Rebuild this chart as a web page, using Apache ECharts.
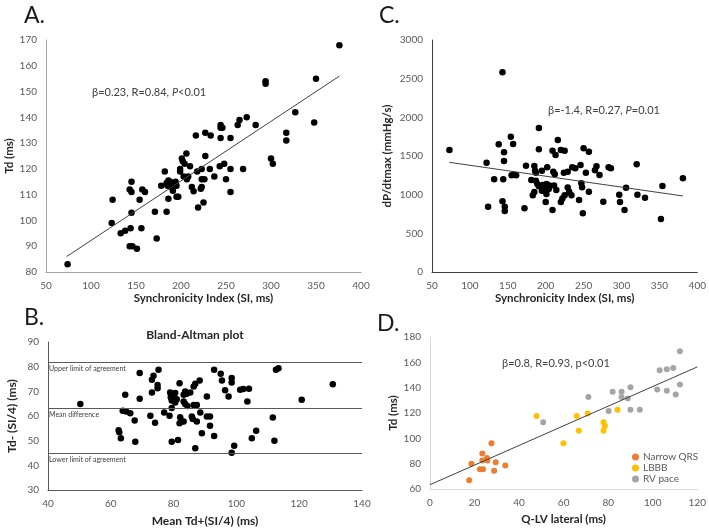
<!DOCTYPE html>
<html>
<head>
<meta charset="utf-8">
<script src="https://cdn.jsdelivr.net/npm/echarts@6/dist/echarts.min.js"></script>
<style>html,body{margin:0;padding:0;background:#fff}#c{width:709px;height:530px}</style>
</head>
<body>
<div id="c"></div>
<script>
// ---------- Panel A: Synchronicity Index vs Td ----------
const siA = [74,123,124,133,138,144,143,146,151,145,145,143,145,157,160,154,156,173,294,294,350,376,327,348,317,317,300,302,
  273,265,263,283,244,246,244,216.5,227,233,244,255,206,201,202,204,210,227,243,248,269,255,232,223,218,199,199,182,203,208,206.5,237,250,223,226,
  186,188,190,194,192,189,185,184,178,195,212,214,222,223,191,255,195,197,186,225,219,171,184];
const tdA = [83,99,108,95,96,97,90,90,89,103,115,112,111,112,111,108,97,93,154,153,155,168,142,138,134,131,124,122,
  140,139,137,137,137,136,136,133,134,133,132,132,126,124,123,122,121,125,121,122,120,120,120,120,119,120,119,119,117,117,116,117,116,116,116,
  115.5,115,114.5,115,113.5,113,113.5,114.5,113.5,113.5,113,111.3,112.3,113,111.5,111,109.2,109.2,108.4,107,105,103.4,103.4];
const trendA_x = [73, 376];
const trendA_y = [86, 156];

// ---------- Panel C: Synchronicity Index vs dP/dtmax ----------
const siC = [73,143,122,124,132,138,145,145,144,143,146,146,191,286,297,298,304,306,320,321,331,354,352,381,
  154,157,216,191,209,213,220,225,250,257,174,185,186,187,195,202,210,212,224,229,235,239,246,253,267,265,271,283,
  155,158,161,181,187,189,191,196,198,201,204,200,195,201,205,211,185,183,214,229,231,234,225,220,222,247,248,257,200,244,276,209,172,249];
const dpC = [1578,2582,1414,845,1198,1651,1548,1435,1198,914,845,789,1862,1340,1000,905,802,1091,1392,1000,961,1112,685,1211,
  1750,1655,1707,1586,1569,1513,1578,1569,1600,1556,1375,1371,1310,1284,1310,1353,1297,1263,1284,1297,1353,1340,1384,1284,1366,1315,1255,1353,
  1250,1258,1250,1190,1181,1138,1108,1125,1095,1138,1073,1052,1052,1009,1117,1117,1035,993,1060,1094,1039,993,993,906,950,1147,1095,1039,906,932,909,802,823,759];
const trendC_x = [73, 381];
const trendC_y = [1418, 983];

// ---------- Panel B: Bland-Altman ----------
const meanB = [50.3,62.5,62.7,63.2,63.8,64.6,64.9,66.2,67.6,67.8,69.2,69.2,
  73.6,73.1,75.2,74.9,74.9,73.1,72.6,74.1,77,78.7,81.9,78.9,80.5,79.1,80.2,79.4,80.2,81,80.5,79.4,
  83.2,83.7,84.2,85.3,86.4,86.9,88.3,83.2,83.7,84.4,86.4,87.4,82.1,82.6,83.2,81.9,85.8,86.1,87.4,88.5,90.6,91.6,91.6,89,92.9,
  79.4,81.4,86.9,92.9,95,95.4,96.4,97.5,98.5,98.5,98.5,99.3,101.2,102.2,103.5,104,90.6,
  104.9,106.3,111.6,112.1,112.6,113.4,120.8,130.7];
const diffB = [64.9,54.2,53.4,51,62.1,68.6,61.8,61.1,58.2,49.6,77.4,67,
  76.3,74.7,78.8,72.6,71.3,69.5,60.1,57.3,61.4,60.1,73.3,69.5,69.3,67.6,67.2,66.3,66.3,66.8,65.5,63.2,
  68.6,69.9,69,69.5,72,73.1,74.4,65.9,64.9,64.1,64.5,64.5,59.5,57.8,57.8,57.1,59.8,58.8,57.8,61.4,59.8,59.8,56,53,51.9,
  49.6,50.3,46.9,78.8,77.1,74.4,70.4,67.9,75.4,73.6,45.1,47.9,70.6,70.9,65.9,71,67.9,
  51,54,59.4,50,78.8,79.4,66.6,72.9];
const limitNames = ['Upper limit of agreement','Mean difference','Lower limit of agreement'];
const limitValues = [81.9, 63.3, 45.0];

// ---------- Panel D: Q-LV lateral vs Td ----------
const groupNames = ['Narrow QRS','LBBB','RV pace'];
const qlvNarrow = [17.6,18.6,23.5,23.5,22.4,23.8,25.6,25.8,27.6,28.8,29.5,33.8];
const tdNarrow  = [67,80,88,82.5,75.5,75.5,84.4,82.5,96.2,74.4,81.2,78.6];
const qlvLBBB = [47.8,59.9,65.9,66.8,70.8,77.9,78.5,77.9,84.2];
const tdLBBB  = [117.6,96.2,117.6,105.9,119.7,112.7,109.8,105.9,122.6];
const qlvRV = [50.8,71.1,80.2,82,86,86,88.8,90,90,94.2,102,103.1,106.3,106.3,109.2,110.3,112.2,112.2];
const tdRV  = [112.7,132.6,121.6,136.8,136.8,132.6,131.5,140.4,122.6,122.6,138.6,153.8,154.6,137.6,155.6,134.7,168.7,142.5];
const trendD_x = [0, 120];
const trendD_y = [63.4, 156.4];

const FONT = 'Lato';
const zip = (a, b) => a.map((v, i) => [v, b[i]]);

function axis(min, max, interval, lineColor, name, nameGap, extra) {
  return Object.assign({
    type: 'value', min, max, interval,
    name, nameLocation: 'middle', nameGap,
    nameTextStyle: {fontFamily: FONT, fontWeight: 'bold', fontSize: 11.5, color: '#262626'},
    axisLine: {show: true, lineStyle: {color: lineColor, width: 1}},
    axisTick: {show: false},
    splitLine: {show: false},
    axisLabel: {fontFamily: FONT, fontSize: 10, color: '#595959', margin: 9, formatter: v => String(v)}
  }, extra || {});
}

const dot = {color: '#000', opacity: 1};

const option = {
  animation: false,
  backgroundColor: '#fff',
  grid: [
    {left: 46, top: 40, width: 315, height: 232},
    {left: 432, top: 40, width: 266, height: 232},
    {left: 48, top: 342, width: 314, height: 148},
    {left: 430, top: 337, width: 268, height: 152}
  ],
  xAxis: [
    axis(50, 400, 50, '#a6a6a6', 'Synchronicity Index (SI, ms)', 20, {gridIndex: 0}),
    axis(50, 400, 50, '#404040', 'Synchronicity Index (SI, ms)', 20, {gridIndex: 1}),
    axis(40, 140, 20, '#595959', 'Mean Td+(SI/4) (ms)', 25, {gridIndex: 2, nameTextStyle: {fontFamily: FONT, fontWeight: 'bold', fontSize: 12, color: '#262626'}}),
    axis(0, 120, 20, '#d9d9d9', 'Q-LV lateral (ms)', 24, {gridIndex: 3})
  ],
  yAxis: [
    axis(80, 170, 10, '#a6a6a6', 'Td (ms)', 29, {gridIndex: 0}),
    axis(0, 3000, 500, '#404040', 'dP/dtmax (mmHg/s)', 39, {gridIndex: 1}),
    axis(30, 90, 10, '#595959', 'Td- (SI/4) (ms)', 30, {gridIndex: 2, nameTextStyle: {fontFamily: FONT, fontWeight: 'bold', fontSize: 12, color: '#262626'}}),
    axis(60, 180, 20, '#d9d9d9', 'Td (ms)', 28, {gridIndex: 3})
  ],
  legend: {
    data: groupNames,
    orient: 'vertical',
    left: 627, top: 447,
    itemWidth: 7, itemHeight: 7, itemGap: 1,
    icon: 'circle',
    textStyle: {fontFamily: FONT, fontSize: 10, color: '#595959', padding: [0, 0, 0, -1]}
  },
  series: [
    {type: 'scatter', xAxisIndex: 0, yAxisIndex: 0, data: zip(siA, tdA), symbolSize: 6.5, itemStyle: dot},
    {type: 'line', xAxisIndex: 0, yAxisIndex: 0, data: zip(trendA_x, trendA_y), symbol: 'none', lineStyle: {color: '#404040', width: 1}},
    {type: 'scatter', xAxisIndex: 1, yAxisIndex: 1, data: zip(siC, dpC), symbolSize: 6.5, itemStyle: dot},
    {type: 'line', xAxisIndex: 1, yAxisIndex: 1, data: zip(trendC_x, trendC_y), symbol: 'none', lineStyle: {color: '#404040', width: 1}},
    {type: 'scatter', xAxisIndex: 2, yAxisIndex: 2, data: zip(meanB, diffB), symbolSize: 6.5, itemStyle: dot,
      markLine: {
        silent: true, symbol: 'none',
        lineStyle: {color: '#595959', width: 1, type: 'solid'},
        label: {show: true, position: 'insideStartBottom', formatter: p => p.name, fontFamily: FONT, fontSize: 7, color: '#404040', distance: [1, 3]},
        data: limitValues.map((v, i) => ({name: limitNames[i], yAxis: v}))
      }},
    {name: groupNames[0], type: 'scatter', xAxisIndex: 3, yAxisIndex: 3, data: zip(qlvNarrow, tdNarrow), symbolSize: 6, itemStyle: {color: '#ed7d31', opacity: 1}},
    {name: groupNames[1], type: 'scatter', xAxisIndex: 3, yAxisIndex: 3, data: zip(qlvLBBB, tdLBBB), symbolSize: 6, itemStyle: {color: '#ffc000', opacity: 1}},
    {name: groupNames[2], type: 'scatter', xAxisIndex: 3, yAxisIndex: 3, data: zip(qlvRV, tdRV), symbolSize: 6, itemStyle: {color: '#a5a5a5', opacity: 1}},
    {type: 'line', xAxisIndex: 3, yAxisIndex: 3, data: zip(trendD_x, trendD_y), symbol: 'none', lineStyle: {color: '#404040', width: 1}}
  ],
  graphic: [
    {type: 'text', x: 24, y: 4, style: {text: 'A.', font: '23px Lato', fill: '#1a1a1a'}},
    {type: 'text', x: 379, y: 4, style: {text: 'C.', font: '23px Lato', fill: '#1a1a1a'}},
    {type: 'text', x: 24, y: 306, style: {text: 'B.', font: '23px Lato', fill: '#1a1a1a'}},
    {type: 'text', x: 377, y: 312, style: {text: 'D.', font: '23px Lato', fill: '#1a1a1a'}},
    {type: 'text', x: 195, y: 335, style: {text: 'Bland-Altman plot', font: 'bold 12px Lato', fill: '#262626', align: 'center', verticalAlign: 'middle'}},
    {type: 'text', x: 92, y: 92, style: {
      text: '{n|β=0.23, R=0.84, }{i|P}{n|<0.01}', verticalAlign: 'middle',
      rich: {n: {fontFamily: FONT, fontSize: 11, fill: '#404040'}, i: {fontFamily: FONT, fontSize: 11, fontStyle: 'italic', fill: '#404040'}}}},
    {type: 'text', x: 548, y: 110, style: {
      text: '{n|β=-1.4, R=0.27, }{i|P}{n|=0.01}', verticalAlign: 'middle',
      rich: {n: {fontFamily: FONT, fontSize: 11, fill: '#404040'}, i: {fontFamily: FONT, fontSize: 11, fontStyle: 'italic', fill: '#404040'}}}},
    {type: 'text', x: 502, y: 363, style: {text: 'β=0.8, R=0.93, p<0.01', font: '11px Lato', fill: '#404040', verticalAlign: 'middle'}}
  ]
};

const chart = echarts.init(document.getElementById('c'), null, {renderer: 'canvas'});
chart.setOption(option);
</script>
</body>
</html>
